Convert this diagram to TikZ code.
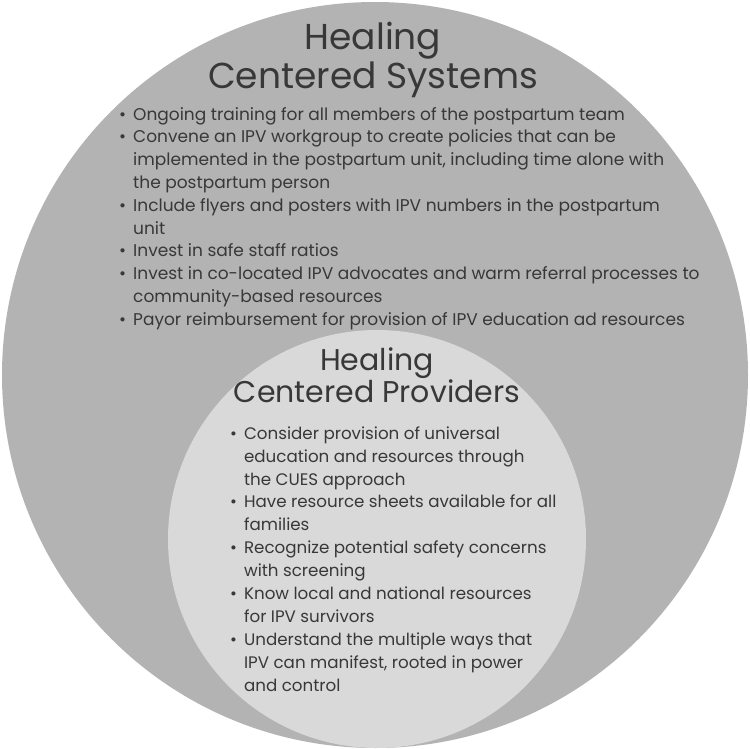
\documentclass[tikz,border=0pt]{standalone}
\usepackage{fontspec}
\setmainfont{Poppins}
\usetikzlibrary{positioning}
\definecolor{HealInk}{HTML}{383838}
\definecolor{HealOuter}{HTML}{B3B3B3}
\definecolor{HealInner}{HTML}{D9D9D9}
\tikzset{
  every node/.style={text=HealInk},
  heading/.style={align=center, inner sep=0pt, anchor=north},
  itemlist/.style={align=left, inner sep=0pt, anchor=north west},
}
\newcommand{\itm}{\textbullet}

\begin{document}
\begin{tikzpicture}[x=1pt,y=-1pt]
  \useasboundingbox (0,0) rectangle (750,749);
  % the two rings
  \fill[HealOuter] (375,375) circle (373);
  \fill[HealInner] (377,539) circle (209);
  % Ring 1: systems
  \node[heading, font=\fontsize{36}{39}\selectfont] (systemsTitle) at (373,22)
    {Healing\\Centered Systems};
  \node[itemlist, font=\fontsize{17}{22.8}\selectfont] (systemsList) at (119,104) {%
    \begin{tabular}{@{}l@{\hspace{7pt}}l@{}}
      \itm & Ongoing training for all members of the postpartum team\\
      \itm & Convene an IPV workgroup to create policies that can be\\
           & implemented in the postpartum unit, including time alone with\\
           & the postpartum person\\
      \itm & Include flyers and posters with IPV numbers in the postpartum\\
           & unit\\
      \itm & Invest in safe staff ratios\\
      \itm & Invest in co-located IPV advocates and warm referral processes to\\
           & community-based resources\\
      \itm & Payor reimbursement for provision of IPV education ad resources
    \end{tabular}};
  % Ring 2: providers
  \node[heading, font=\fontsize{30}{32}\selectfont] (providersTitle) at (377,347)
    {Healing\\Centered Providers};
  \node[itemlist, font=\fontsize{16.7}{22.9}\selectfont] (providersList) at (230,423) {%
    \begin{tabular}{@{}l@{\hspace{7pt}}l@{}}
      \itm & Consider provision of universal\\
           & education and resources through\\
           & the CUES approach\\
      \itm & Have resource sheets available for all\\
           & families\\
      \itm & Recognize potential safety concerns\\
           & with screening\\
      \itm & Know local and national resources\\
           & for IPV survivors\\
      \itm & Understand the multiple ways that\\
           & IPV can manifest, rooted in power\\
           & and control
    \end{tabular}};
\end{tikzpicture}
\end{document}
